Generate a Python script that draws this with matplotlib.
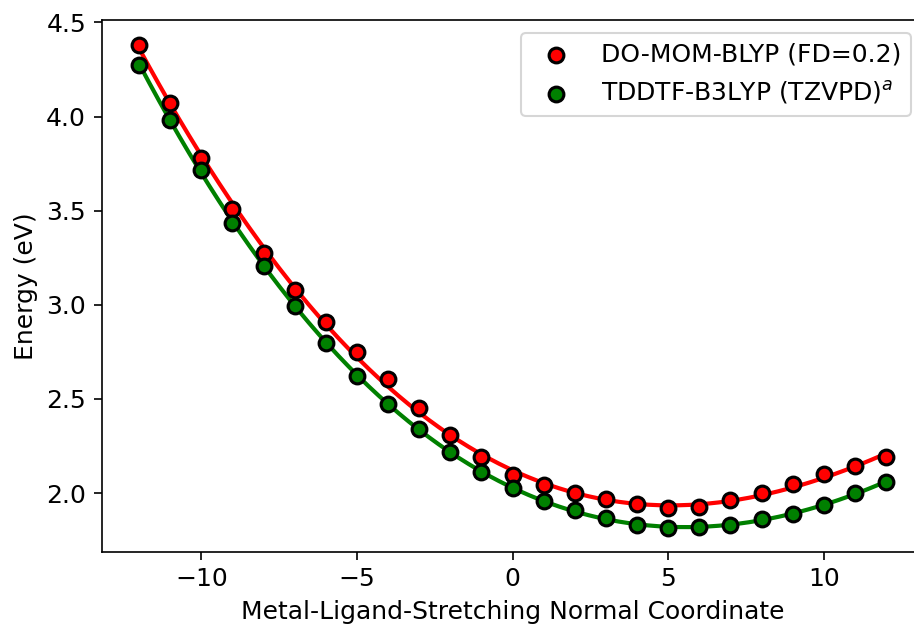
import numpy as np
import matplotlib
matplotlib.use("Agg")
import matplotlib.pyplot as plt

# Normal-coordinate displacement grid
coord = list(range(-12, 13))

# Excitation energies (eV) along the metal-ligand stretching mode
energy_dommom = [4.382, 4.074, 3.778, 3.511, 3.276, 3.079, 2.909, 2.750, 2.608,
                 2.451, 2.308, 2.190, 2.098, 2.041, 1.999, 1.967, 1.940, 1.921,
                 1.927, 1.961, 2.002, 2.046, 2.099, 2.143, 2.190]
energy_tddft = [4.272, 3.981, 3.718, 3.437, 3.206, 2.996, 2.798, 2.621, 2.472,
                2.340, 2.217, 2.111, 2.026, 1.959, 1.912, 1.870, 1.829, 1.817,
                1.818, 1.829, 1.861, 1.888, 1.938, 1.999, 2.060]

label_dommom = "DO-MOM-BLYP (FD=0.2)"
label_tddft = r"TDDTF-B3LYP (TZVPD)$^a$"

fig = plt.figure(figsize=(914 / 150, 628 / 150), dpi=150)
# the right-hand edge of the axes runs just past the canvas border
ax = fig.add_axes([0.1113, 0.1215, 0.899, 0.8459])

x = np.array(coord, dtype=float)
xf = np.linspace(x.min(), x.max(), 300)

for y, color, lab in [(energy_dommom, "red", label_dommom),
                      (energy_tddft, "green", label_tddft)]:
    y = np.array(y)
    fit = np.poly1d(np.polyfit(x, y, 4))
    ax.plot(xf, fit(xf), color=color, lw=2.0, zorder=1)
    ax.scatter(x, y, s=50, color=color, edgecolors="black", linewidths=1.5,
               zorder=2, label=lab)

ax.set_xlabel("Metal-Ligand-Stretching Normal Coordinate", fontsize=12)
ax.set_ylabel("Energy (eV)", fontsize=12)
ax.tick_params(labelsize=12, length=4)
ax.set_yticks([2.0, 2.5, 3.0, 3.5, 4.0, 4.5])
ax.legend(loc="upper right", fontsize=12)

fig.savefig("out.png", dpi=150)
